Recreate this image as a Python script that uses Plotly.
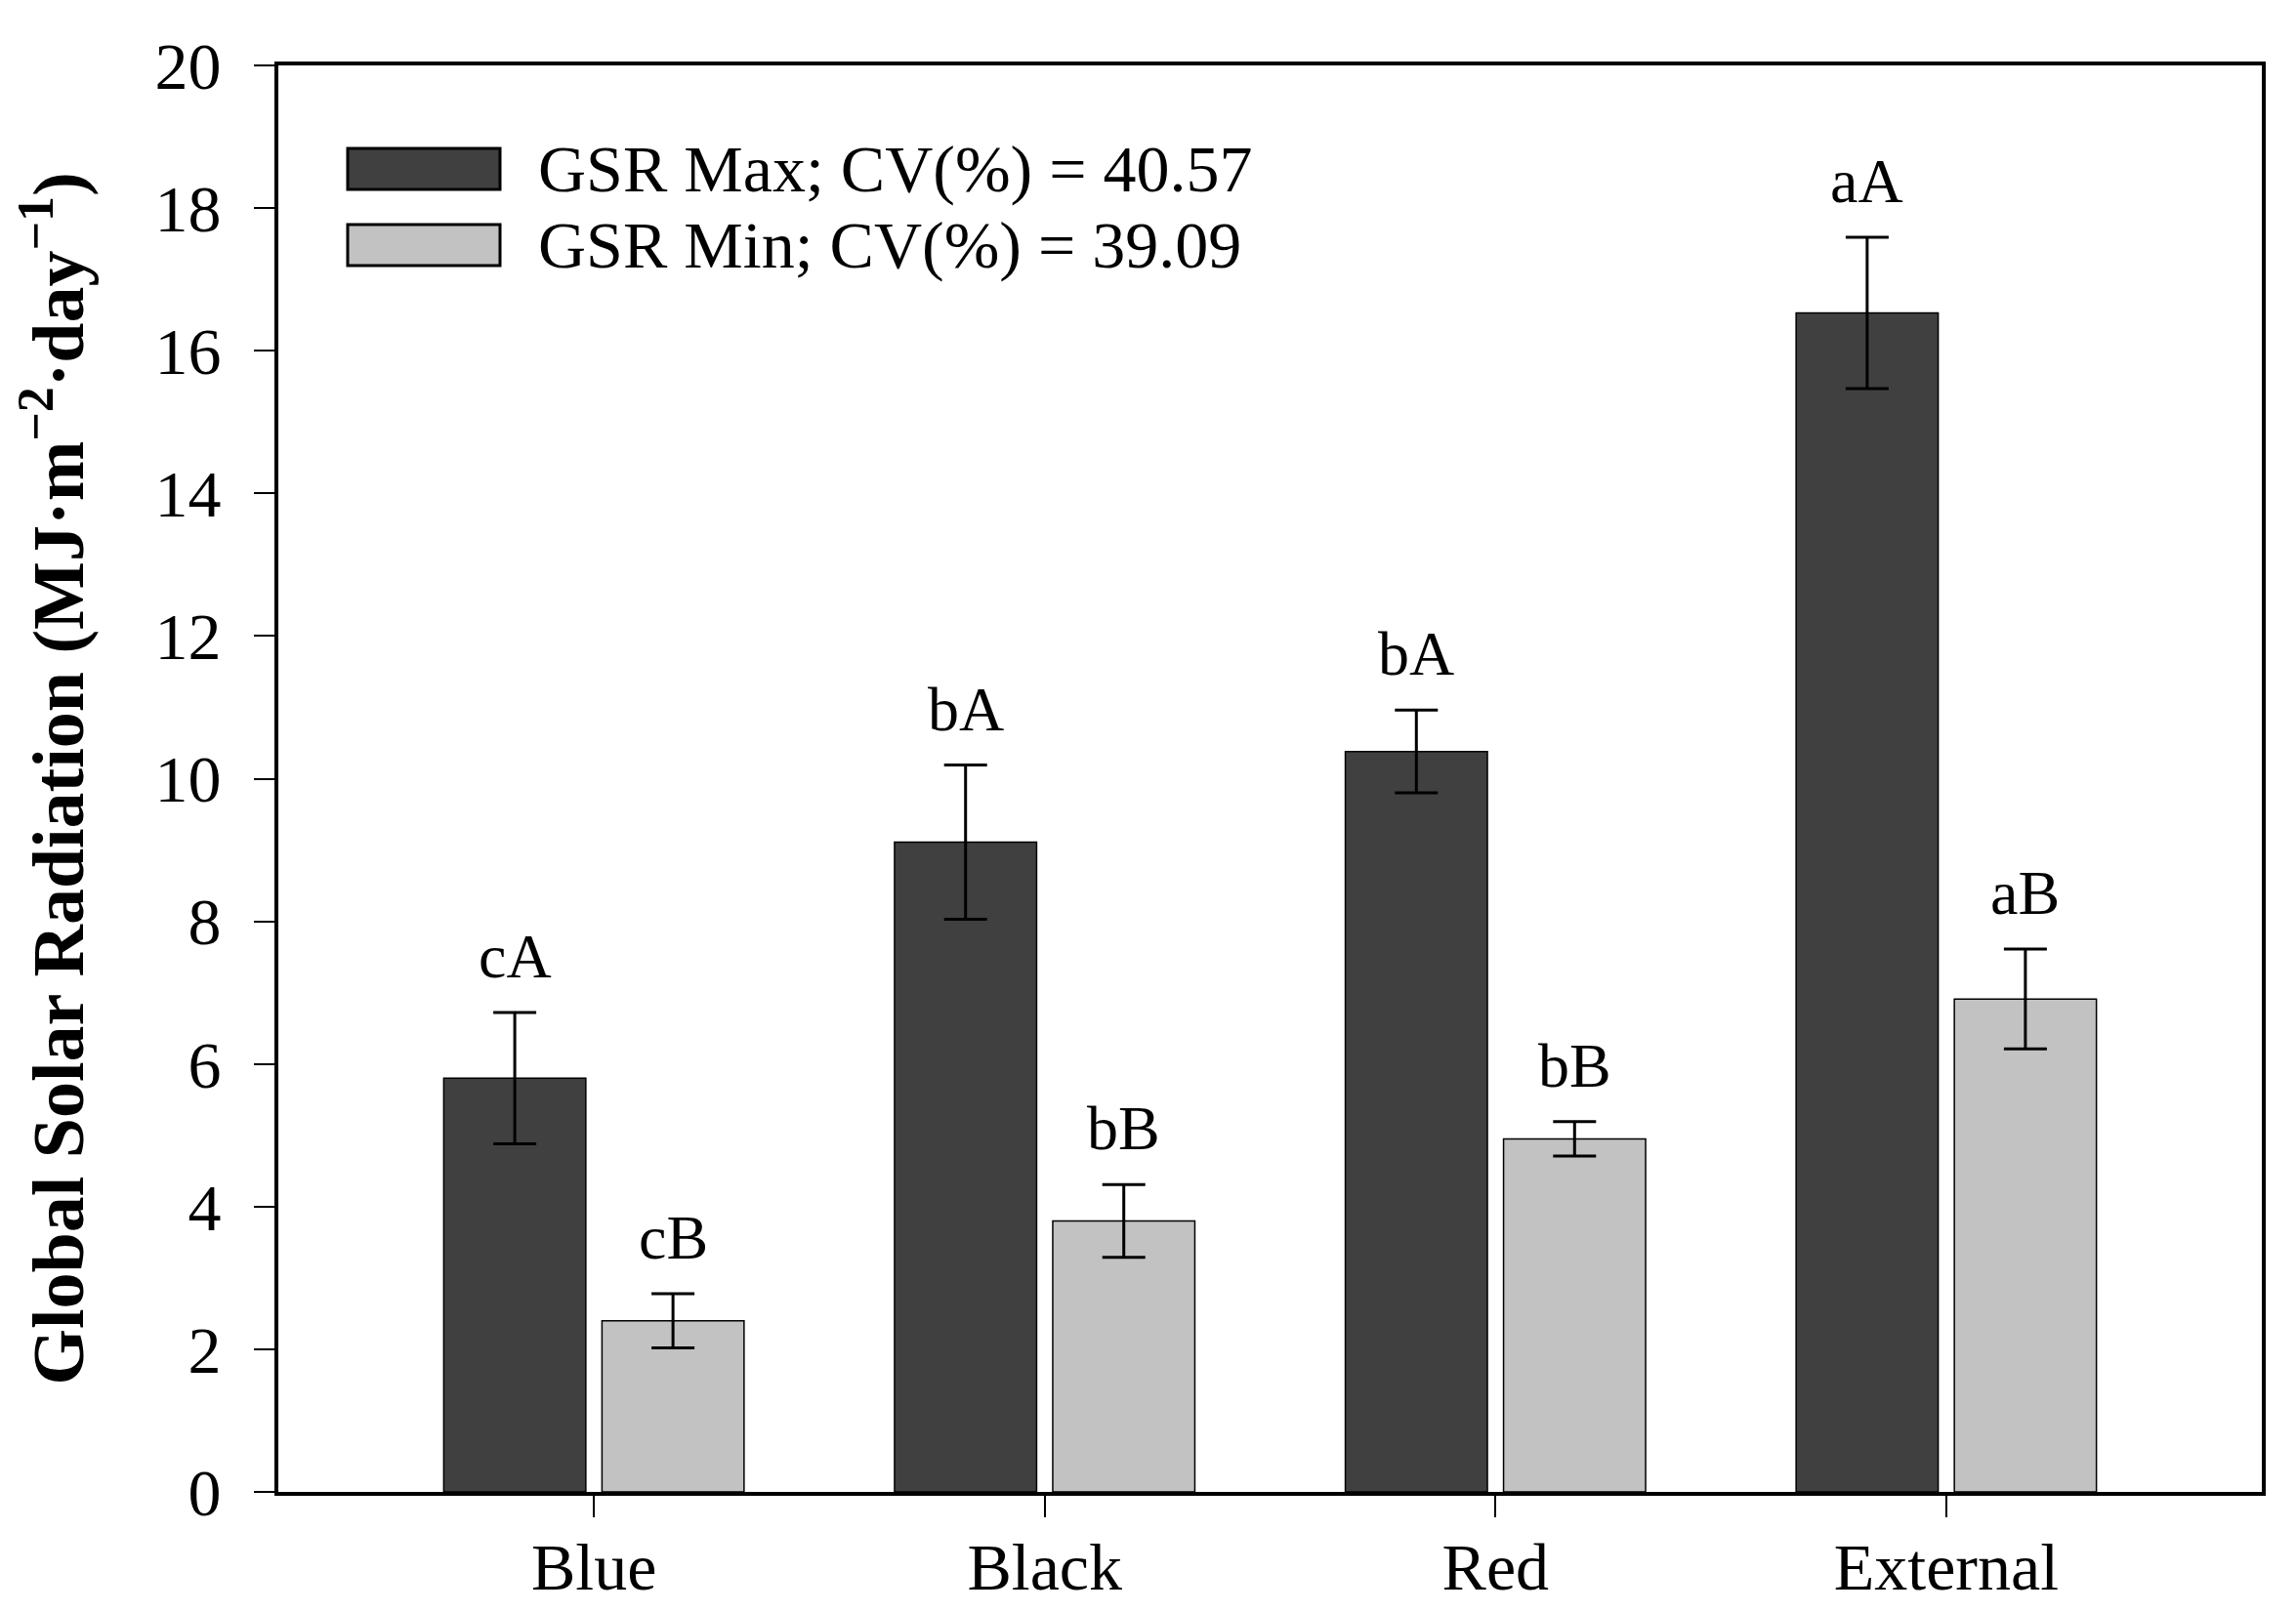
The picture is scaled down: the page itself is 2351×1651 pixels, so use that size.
import plotly.graph_objects as go

categories = ["Blue", "Black", "Red", "External"]
gsr_max = [5.80, 9.11, 10.38, 16.53]
gsr_max_err = [0.92, 1.08, 0.58, 1.06]
gsr_min = [2.40, 3.80, 4.95, 6.91]
gsr_min_err = [0.38, 0.51, 0.24, 0.70]
max_letters = ["cA", "bA", "bA", "aA"]
min_letters = ["cB", "bB", "bB", "aB"]
legend_max = "GSR Max; CV(%) = 40.57"
legend_min = "GSR Min; CV(%) = 39.09"
y_ticks = [0, 2, 4, 6, 8, 10, 12, 14, 16, 18, 20]

FONT = "Liberation Serif, Times New Roman, serif"
DARK = "#404040"
LIGHT = "#c2c2c2"

W, H = 2351, 1651
ML, MR, MT, MB = 277, 43, 59, 131
XR = [-0.70, 3.70]
bargap, bargroupgap = 0.298, 0.102

fig = go.Figure()
fig.add_trace(go.Bar(
    x=categories, y=gsr_max, name=legend_max,
    marker=dict(color=DARK, line=dict(color="black", width=1.5)),
    error_y=dict(type="data", array=gsr_max_err, color="black", thickness=3, width=22),
    showlegend=False,
))
fig.add_trace(go.Bar(
    x=categories, y=gsr_min, name=legend_min,
    marker=dict(color=LIGHT, line=dict(color="black", width=1.5)),
    error_y=dict(type="data", array=gsr_min_err, color="black", thickness=3, width=22),
    showlegend=False,
))

# pixel offset of bar centres from category centre
plot_w = W - ML - MR
px_per_unit = plot_w / (XR[1] - XR[0])
group_w = 1 - bargap
shift = group_w / 4 * px_per_unit

annotations = []
for i, c in enumerate(categories):
    annotations.append(dict(x=c, y=gsr_max[i] + gsr_max_err[i], xref="x", yref="y",
                            text=max_letters[i], showarrow=False, xshift=-shift, yshift=20,
                            yanchor="bottom", font=dict(family=FONT, size=64, color="black")))
    annotations.append(dict(x=c, y=gsr_min[i] + gsr_min_err[i], xref="x", yref="y",
                            text=min_letters[i], showarrow=False, xshift=shift, yshift=20,
                            yanchor="bottom", font=dict(family=FONT, size=64, color="black")))

# manual legend
plot_h = H - MT - MB
def px2x(px):
    return (px - ML) / plot_w
def px2y(py):
    return (H - MB - py) / plot_h

shapes = [
    dict(type="rect", xref="paper", yref="paper", x0=px2x(348), x1=px2x(504),
         y0=px2y(186), y1=px2y(144), fillcolor=DARK, line=dict(color="black", width=3)),
    dict(type="rect", xref="paper", yref="paper", x0=px2x(348), x1=px2x(504),
         y0=px2y(264), y1=px2y(222), fillcolor=LIGHT, line=dict(color="black", width=3)),
]
annotations.append(dict(x=px2x(541), y=px2y(165), xref="paper", yref="paper", text=legend_max,
                        showarrow=False, xanchor="left", yanchor="middle",
                        font=dict(family=FONT, size=68, color="black")))
annotations.append(dict(x=px2x(541), y=px2y(243), xref="paper", yref="paper", text=legend_min,
                        showarrow=False, xanchor="left", yanchor="middle",
                        font=dict(family=FONT, size=68, color="black")))

fig.update_layout(
    width=W, height=H,
    margin=dict(l=ML, r=MR, t=MT, b=MB),
    paper_bgcolor="white", plot_bgcolor="white",
    barmode="group", bargap=bargap, bargroupgap=bargroupgap,
    font=dict(family=FONT, size=68, color="black"),
    annotations=annotations, shapes=shapes,
)
fig.update_xaxes(
    range=XR, showline=True, linecolor="black", linewidth=4, mirror=True,
    ticks="outside", ticklen=22, tickwidth=2, tickcolor="black",
    showgrid=False, zeroline=False, ticklabelstandoff=-8,
    tickfont=dict(family=FONT, size=68, color="black"),
)
fig.update_yaxes(
    range=[0, 20], tickvals=y_ticks, showline=True, linecolor="black", linewidth=4, mirror=True,
    ticks="outside", ticklen=21, tickwidth=2, tickcolor="black",
    showgrid=False, zeroline=False, ticklabelstandoff=20,
    tickfont=dict(family=FONT, size=68, color="black"),
    title=dict(text="<b>Global Solar Radiation (MJ·m<sup>−2</sup>·day<sup>−1</sup>)</b>",
               font=dict(family=FONT, size=74, color="black"), standoff=58),
)

fig.write_html("out.html")
